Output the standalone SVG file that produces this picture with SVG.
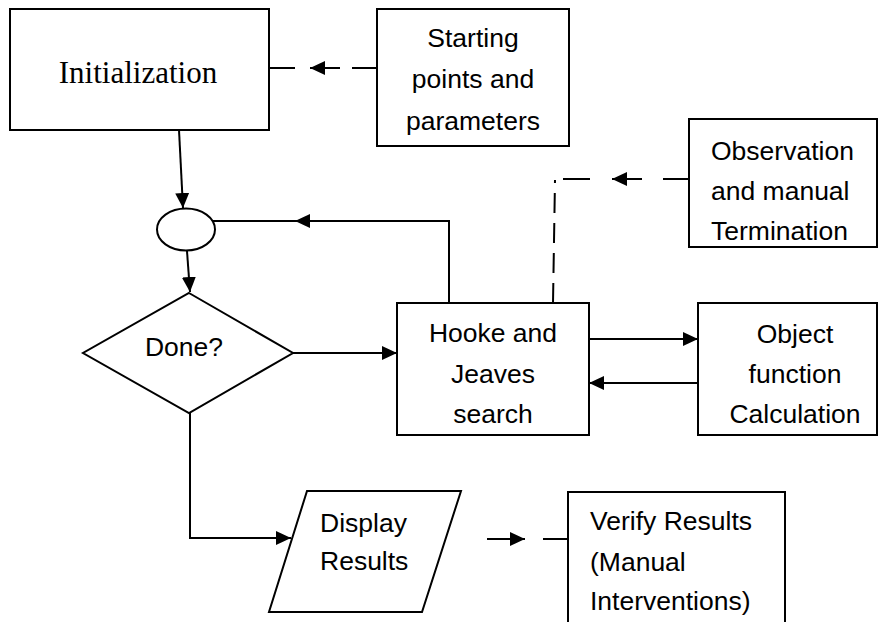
<svg xmlns="http://www.w3.org/2000/svg" width="880" height="622" viewBox="0 0 880 622">
  <defs>
    <marker id="arrow" markerUnits="userSpaceOnUse" markerWidth="15" markerHeight="14" refX="15" refY="7" orient="auto">
      <path d="M0,0 L15,7 L0,14 z" fill="#000"/>
    </marker>
    <style>
      .box { fill: #fff; stroke: #000; stroke-width: 2; }
      .line { fill: none; stroke: #000; stroke-width: 2; }
      .arr { fill: none; stroke: #000; stroke-width: 2; marker-end: url(#arrow); }
      .dash { fill: none; stroke: #000; stroke-width: 2; stroke-dasharray: 20 10; }
      .serif { font-family: "Liberation Serif", "Times New Roman", serif; font-size: 31px; fill: #000; }
      .sans { font-family: "Liberation Sans", Arial, sans-serif; font-size: 26.5px; fill: #000; }
      .mid { text-anchor: middle; }
    </style>
  </defs>

  <rect width="880" height="622" fill="#fff"/>

  <!-- connectors -->
  <g id="connectors">
    <!-- Initialization to junction -->
    <path class="arr" d="M179,130 L183,208"/>
    <!-- junction to decision -->
    <path class="arr" d="M187,251 L190,292"/>
    <!-- decision to search -->
    <path class="arr" d="M293,353 L397,353"/>
    <!-- search back to junction -->
    <path class="line" d="M449,303 V221 H213"/>
    <path class="arr" d="M309,221 L295,221"/>
    <!-- search to/from objective function -->
    <path class="arr" d="M589,339 L698,339"/>
    <path class="arr" d="M698,383 L589,383"/>
    <!-- decision to display -->
    <path class="arr" d="M190,413 V538 H291"/>

    <!-- dashed inputs -->
    <path class="line" d="M269,68 H295"/>
    <path class="arr" d="M340,68 L310,68"/>
    <path class="line" d="M352,68 H377"/>

    <path class="dash" d="M553,303 L555,180"/>
    <path class="line" d="M563,179 H590"/>
    <path class="arr" d="M642,179 L612,179"/>
    <path class="line" d="M663,179 H689"/>

    <path class="arr" d="M487,539 L525,539"/>
    <path class="line" d="M543,539 H568"/>
  </g>

  <!-- nodes -->
  <g id="initialization">
    <rect class="box" x="10" y="9" width="259" height="121"/>
    <text class="serif mid" x="138" y="83">Initialization</text>
  </g>

  <g id="starting-points">
    <rect class="box" x="377" y="9" width="192" height="137"/>
    <text class="sans mid" x="473" y="47">Starting</text>
    <text class="sans mid" x="473" y="88">points and</text>
    <text class="sans mid" x="473" y="130">parameters</text>
  </g>

  <g id="observation">
    <rect class="box" x="689" y="119" width="188" height="128"/>
    <text class="sans" x="711" y="160">Observation</text>
    <text class="sans" x="711" y="200">and manual</text>
    <text class="sans" x="711" y="240">Termination</text>
  </g>

  <g id="junction">
    <ellipse class="box" cx="186" cy="229.5" rx="29" ry="21"/>
  </g>

  <g id="done">
    <polygon class="box" points="189,293 293,353 189,413 83,353"/>
    <text class="sans mid" x="184" y="356">Done?</text>
  </g>

  <g id="hooke-jeeves">
    <rect class="box" x="397" y="303" width="192" height="132"/>
    <text class="sans mid" x="493" y="342">Hooke and</text>
    <text class="sans mid" x="493" y="383">Jeaves</text>
    <text class="sans mid" x="493" y="423">search</text>
  </g>

  <g id="objective">
    <rect class="box" x="698" y="303" width="179" height="132"/>
    <text class="sans mid" x="795" y="343">Object</text>
    <text class="sans mid" x="795" y="383">function</text>
    <text class="sans mid" x="795" y="423">Calculation</text>
  </g>

  <g id="display">
    <polygon class="box" points="307,491 461,491 422,612 269,612"/>
    <text class="sans" x="320" y="532">Display</text>
    <text class="sans" x="320" y="570">Results</text>
  </g>

  <g id="verify">
    <rect class="box" x="568" y="492" width="217" height="140"/>
    <text class="sans" x="590" y="530">Verify Results</text>
    <text class="sans" x="590" y="571">(Manual</text>
    <text class="sans" x="590" y="610">Interventions)</text>
  </g>
</svg>
